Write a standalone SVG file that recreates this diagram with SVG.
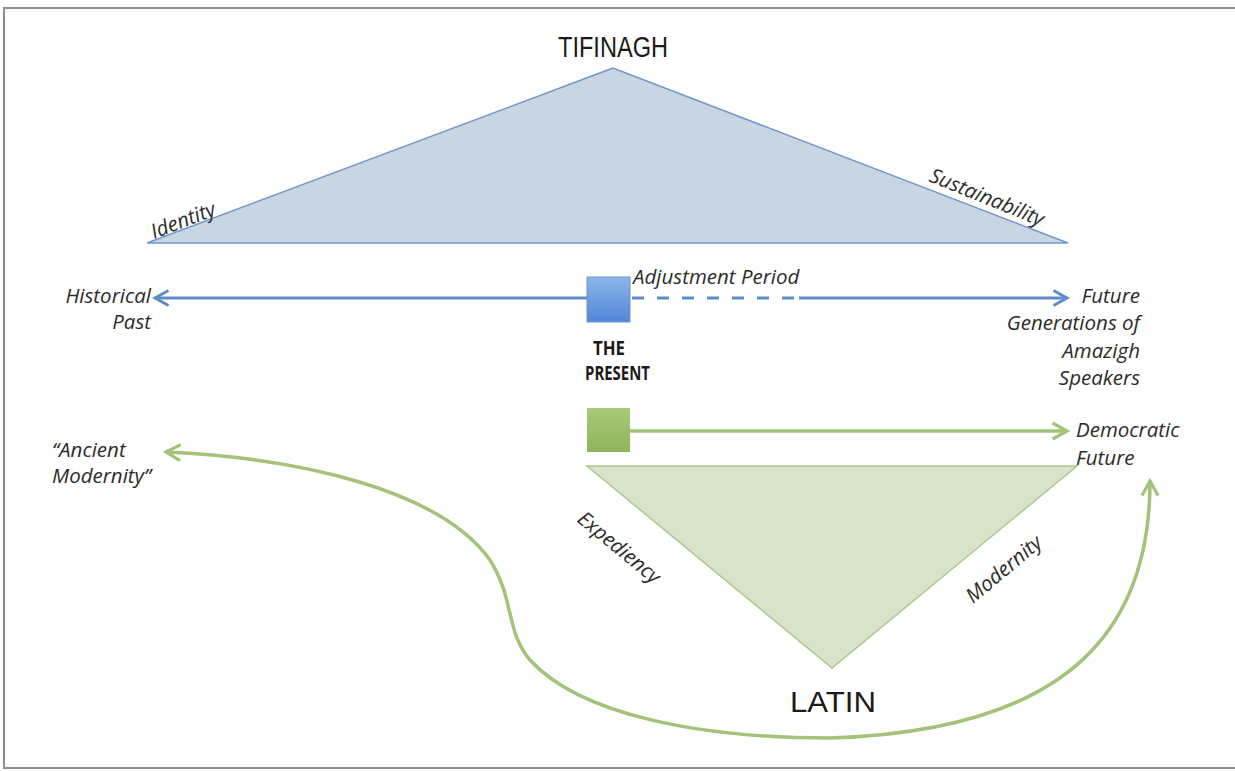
<svg xmlns="http://www.w3.org/2000/svg" width="1235" height="771" viewBox="0 0 1235 771">
<style>
.lbl{font-family:"Open Sans","Liberation Sans",sans-serif;font-style:italic;font-size:20.5px;fill:#2b2b2b}
.end{text-anchor:end}
.title{font-family:"Liberation Sans","Open Sans",sans-serif;font-size:30px;fill:#1a1a1a}
.bold{font-family:"Open Sans","Liberation Sans",sans-serif;font-weight:bold;font-size:19px;fill:#1a1a1a}
.blueLine{stroke:#5f8cc8;stroke-width:3;fill:none}
.greenLine{stroke:#a3c27a;stroke-width:3.5;fill:none}
</style>
<defs>
<marker id="arrB" viewBox="0 0 12 12" refX="10" refY="6" markerWidth="6" markerHeight="6" markerUnits="strokeWidth" orient="auto-start-reverse">
<path d="M1,1 L10,6 L1,11" fill="none" stroke="#5f8cc8" stroke-width="2"/>
</marker>
<marker id="arrG" viewBox="0 0 12 12" refX="10" refY="6" markerWidth="5.5" markerHeight="5.5" markerUnits="strokeWidth" orient="auto-start-reverse">
<path d="M1,1 L10,6 L1,11" fill="none" stroke="#a3c27a" stroke-width="2"/>
</marker>
<linearGradient id="gB" x1="0" y1="0" x2="0" y2="1">
<stop offset="0" stop-color="#8fb6ea"/>
<stop offset="1" stop-color="#4f86d6"/>
</linearGradient>
<linearGradient id="gG" x1="0" y1="0" x2="0" y2="1">
<stop offset="0" stop-color="#a9c878"/>
<stop offset="1" stop-color="#8fb55a"/>
</linearGradient>
</defs>
<rect x="0" y="0" width="1235" height="771" fill="#ffffff"/>
<rect x="4" y="8" width="1250" height="760" fill="none" stroke="#8c8c8c" stroke-width="2"/>

<g id="tifinagh">
<polygon points="613,68 147,243 1068,243" fill="#c9d5e3" stroke="#6f96c8" stroke-width="1.5"/>
<text class="title" x="613" y="57" text-anchor="middle" textLength="110" lengthAdjust="spacingAndGlyphs">TIFINAGH</text>
<text class="lbl" transform="translate(154,239) rotate(-21)">Identity</text>
<text class="lbl" transform="translate(928,181) rotate(22)">Sustainability</text>
</g>

<g id="latin">
<polygon points="587,466 1077,466 832,668" fill="#d8e3c9" stroke="#adc78e" stroke-width="1.5"/>
<text class="title" x="833" y="712" text-anchor="middle" textLength="86" lengthAdjust="spacingAndGlyphs">LATIN</text>
<text class="lbl" transform="translate(576,521) rotate(39.5)">Expediency</text>
<text class="lbl" transform="translate(973,604) rotate(-40)">Modernity</text>
</g>

<g id="connectors">
<line class="blueLine" x1="588" y1="298" x2="155" y2="298" marker-end="url(#arrB)"/>
<line class="blueLine" x1="632" y1="298" x2="794" y2="298" stroke-dasharray="12,13"/>
<line class="blueLine" x1="799" y1="298" x2="1067" y2="298" marker-end="url(#arrB)"/>
<line class="greenLine" x1="630" y1="431" x2="1067" y2="431" marker-end="url(#arrG)"/>
<path class="greenLine" d="M1150,481 C1150,620 1080,730 830,738 C700,738 580,715 530,660 C505,630 515,600 490,560 C440,490 300,458 166,452" marker-start="url(#arrG)" marker-end="url(#arrG)"/>
</g>

<g id="present">
<rect x="587" y="277" width="43" height="45" fill="url(#gB)" stroke="#6b95cc" stroke-width="1"/>
<text class="lbl" x="633" y="284">Adjustment Period</text>
<text class="bold" x="593" y="355" textLength="32" lengthAdjust="spacingAndGlyphs">THE</text>
<text class="bold" x="585" y="380" textLength="65" lengthAdjust="spacingAndGlyphs">PRESENT</text>
</g>

<g id="green-present">
<rect x="587" y="408" width="43" height="44" fill="url(#gG)"/>
</g>

<g id="historical-past">
<text class="lbl end" x="151" y="303">Historical</text>
<text class="lbl end" x="151" y="329">Past</text>
</g>

<g id="future-generations">
<text class="lbl end" x="1140" y="303">Future</text>
<text class="lbl end" x="1140" y="330">Generations of</text>
<text class="lbl end" x="1140" y="358">Amazigh</text>
<text class="lbl end" x="1140" y="385">Speakers</text>
</g>

<g id="democratic-future">
<text class="lbl" x="1076" y="437">Democratic</text>
<text class="lbl" x="1076" y="465">Future</text>
</g>

<g id="ancient-modernity">
<text class="lbl" x="52" y="457">“Ancient</text>
<text class="lbl" x="52" y="483">Modernity”</text>
</g>
</svg>
